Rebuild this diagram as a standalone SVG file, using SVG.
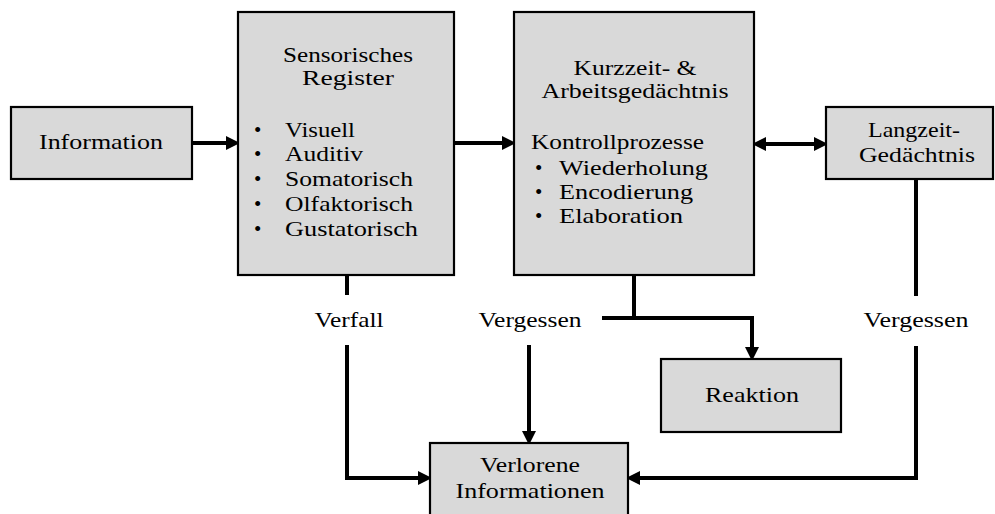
<svg xmlns="http://www.w3.org/2000/svg" width="995" height="514" viewBox="0 0 995 514">
<style>
.box{fill:#d9d9d9;stroke:#000;stroke-width:2.2}
.t{font-family:'Liberation Serif','DejaVu Serif','Times New Roman',serif;font-size:21px;fill:#000}
.c{text-anchor:middle}
.ln{fill:none;stroke:#000;stroke-width:4;stroke-linejoin:miter;stroke-linecap:butt}
.ar{marker-end:url(#ah)}
</style>
<defs>
<marker id="ah" markerUnits="userSpaceOnUse" markerWidth="14" markerHeight="14" refX="0" refY="6" orient="auto-start-reverse" viewBox="0 0 12 12">
<path d="M0,0 L12,6 L0,12 z" fill="#000"/>
</marker>
</defs>
<rect width="995" height="514" fill="#fff"/>
<g id="connectors">
<path class="ln ar" d="M192,143 H226"/>
<path class="ln ar" d="M454,143 H502"/>
<path class="ln" d="M766,144 H814" marker-start="url(#ah)" marker-end="url(#ah)"/>
<path class="ln" d="M347,275 V295"/>
<path class="ln ar" d="M347,345 V478 H418"/>
<path class="ln ar" d="M529,345 V431"/>
<path class="ln" d="M634,275 V318"/>
<path class="ln ar" d="M602,318 H752 V347"/>
<path class="ln" d="M916,179 V296"/>
<path class="ln ar" d="M916,346 V478 H640"/>
</g>
<g id="labels">
<text class="t c" x="349" y="327" textLength="69" lengthAdjust="spacingAndGlyphs">Verfall</text>
<text class="t c" x="530" y="327" textLength="103" lengthAdjust="spacingAndGlyphs">Vergessen</text>
<text class="t c" x="916" y="327" textLength="105" lengthAdjust="spacingAndGlyphs">Vergessen</text>
</g>
<g id="information">
<rect class="box" x="11" y="107" width="181" height="72"/>
<text class="t c" x="101" y="149" textLength="124" lengthAdjust="spacingAndGlyphs">Information</text>
</g>
<g id="sensorisches-register">
<rect class="box" x="238" y="12" width="216" height="263"/>
<text class="t c" x="348" y="62" textLength="130" lengthAdjust="spacingAndGlyphs">Sensorisches</text>
<text class="t c" x="348" y="85" textLength="92" lengthAdjust="spacingAndGlyphs">Register</text>
<text class="t" x="254" y="137">•</text>
<text class="t" x="285" y="137" textLength="70" lengthAdjust="spacingAndGlyphs">Visuell</text>
<text class="t" x="254" y="161">•</text>
<text class="t" x="285" y="161" textLength="78" lengthAdjust="spacingAndGlyphs">Auditiv</text>
<text class="t" x="254" y="186">•</text>
<text class="t" x="285" y="186" textLength="128" lengthAdjust="spacingAndGlyphs">Somatorisch</text>
<text class="t" x="254" y="211">•</text>
<text class="t" x="285" y="211" textLength="128" lengthAdjust="spacingAndGlyphs">Olfaktorisch</text>
<text class="t" x="254" y="236">•</text>
<text class="t" x="285" y="236" textLength="133" lengthAdjust="spacingAndGlyphs">Gustatorisch</text>
</g>
<g id="kurzzeit-arbeitsgedaechtnis">
<rect class="box" x="514" y="12" width="240" height="263"/>
<text class="t c" x="635" y="75" textLength="123" lengthAdjust="spacingAndGlyphs">Kurzzeit- &amp;</text>
<text class="t c" x="635" y="98" textLength="187" lengthAdjust="spacingAndGlyphs">Arbeitsgedächtnis</text>
<text class="t" x="531" y="149" textLength="173" lengthAdjust="spacingAndGlyphs">Kontrollprozesse</text>
<text class="t" x="535" y="175">•</text>
<text class="t" x="559" y="175" textLength="149" lengthAdjust="spacingAndGlyphs">Wiederholung</text>
<text class="t" x="535" y="199">•</text>
<text class="t" x="559" y="199" textLength="134" lengthAdjust="spacingAndGlyphs">Encodierung</text>
<text class="t" x="535" y="223">•</text>
<text class="t" x="559" y="223" textLength="124" lengthAdjust="spacingAndGlyphs">Elaboration</text>
</g>
<g id="langzeit-gedaechtnis">
<rect class="box" x="826" y="107" width="167" height="72"/>
<text class="t c" x="914" y="137" textLength="92" lengthAdjust="spacingAndGlyphs">Langzeit-</text>
<text class="t c" x="917" y="162" textLength="116" lengthAdjust="spacingAndGlyphs">Gedächtnis</text>
</g>
<g id="reaktion">
<rect class="box" x="661" y="359" width="180" height="73"/>
<text class="t c" x="752" y="402" textLength="94" lengthAdjust="spacingAndGlyphs">Reaktion</text>
</g>
<g id="verlorene-informationen">
<rect class="box" x="430" y="443" width="198" height="76"/>
<text class="t c" x="530" y="472" textLength="100" lengthAdjust="spacingAndGlyphs">Verlorene</text>
<text class="t c" x="530" y="498" textLength="149" lengthAdjust="spacingAndGlyphs">Informationen</text>
</g>
</svg>
